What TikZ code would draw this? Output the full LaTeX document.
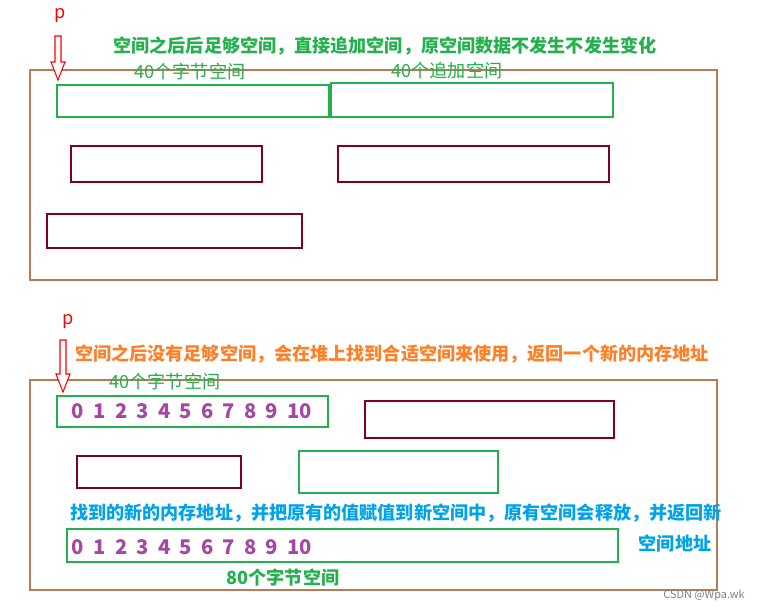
\documentclass[tikz,border=0pt]{standalone}
\usepackage{fontspec}
\setmainfont{Noto Sans CJK SC}
\usetikzlibrary{positioning}
\definecolor{framec}{RGB}{184,123,85}
\definecolor{boxgreen}{RGB}{34,177,76}
\definecolor{boxred}{RGB}{128,0,32}
\definecolor{txtorange}{RGB}{255,127,39}
\definecolor{txtblue}{RGB}{0,162,232}
\definecolor{numpurple}{RGB}{163,73,164}
\begin{document}
\begin{tikzpicture}[x=0.02cm, y=-0.02cm,
        frame/.style={draw=framec, line width=1.2pt},
        gbox/.style={draw=boxgreen, line width=1.2pt},
        rbox/.style={draw=boxred, line width=1.2pt},
        lbl/.style={font=\fontsize{10.3}{12}\selectfont, inner sep=0pt},
        blbl/.style={font=\fontsize{10.3}{12}\selectfont\bfseries, inner sep=0pt},
        ptr/.style={draw=red, fill=white, line width=0.6pt}
    ]
        \useasboundingbox (0,0) rectangle (761,610);
        % upper case
        \draw[frame] (30,70) rectangle (717,280);
        \draw[gbox] (57,85) rectangle (329,117);
        \draw[gbox] (331,83) rectangle (613,117);
        \draw[rbox] (71,146) rectangle (262,182);
        \draw[rbox] (338,146) rectangle (609,182);
        \draw[rbox] (47,214) rectangle (302,248);
        \node[lbl, red] (p1) at (60,16) {p};
        \draw[ptr] (55,36) -- (61,36) -- (61,62) -- (65,62) -- (58,80) -- (51,62) -- (55,62) -- cycle;
        \node[blbl, boxgreen] (t1) at (385,46) {空间之后后足够空间，直接追加空间，原空间数据不发生不发生变化};
        \node[lbl, boxgreen] (l1) at (190,72) {40个字节空间};
        \node[lbl, boxgreen] (l2) at (447,71) {40个追加空间};
        % lower case
        \draw[frame] (30,380) rectangle (717,590);
        \node[lbl, red] (p2) at (68,322) {p};
        \draw[ptr] (60,340) -- (66,340) -- (66,374) -- (70,374) -- (63,392) -- (56,374) -- (60,374) -- cycle;
        \node[blbl, txtorange] (t2) at (392,354) {空间之后没有足够空间，会在堆上找到合适空间来使用，返回一个新的内存地址};
        \node[lbl, boxgreen] (l3) at (165,382) {40个字节空间};
        \draw[gbox] (57,396) rectangle (328,427);
        \node[blbl, numpurple, font=\fontsize{11.5}{13}\selectfont\bfseries] (n1) at (192,411) {0\ \ 1\ \ 2\ \ 3\ \ 4\ \ 5\ \ 6\ \ 7\ \ 8\ \ 9\ \ 10};
        \draw[rbox] (365,401) rectangle (614,438);
        \draw[rbox] (77,456) rectangle (241,488);
        \draw[gbox] (299,451) rectangle (498,493);
        \node[blbl, txtblue] (t3) at (396,513) {找到的新的内存地址，并把原有的值赋值到新空间中，原有空间会释放，并返回新};
        \node[blbl, txtblue] (t4) at (675,543) {空间地址};
        \draw[gbox] (67,529) rectangle (618,562);
        \node[blbl, numpurple, font=\fontsize{11.5}{13}\selectfont\bfseries] (n2) at (192,547) {0\ \ 1\ \ 2\ \ 3\ \ 4\ \ 5\ \ 6\ \ 7\ \ 8\ \ 9\ \ 10};
        \node[blbl, boxgreen] (l4) at (283,577) {80个字节空间};
        \node[lbl, gray, font=\fontsize{6.2}{7}\selectfont] (wm) at (704,595) {CSDN @Wpa.wk};
\end{tikzpicture}
\end{document}
